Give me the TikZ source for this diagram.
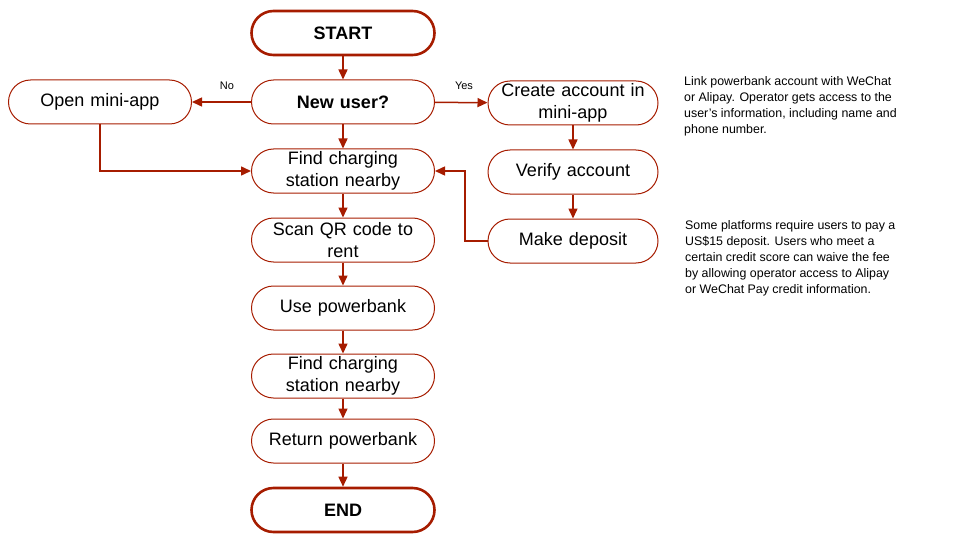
\documentclass[tikz,border=0pt]{standalone}
\usepackage{fontspec}
\setmainfont{Liberation Sans}
\usetikzlibrary{arrows.meta,positioning}
\definecolor{berry}{HTML}{A61C00}
\tikzset{
  pill/.style={draw=berry, line width=1pt, rounded corners=22pt, minimum width=183pt, minimum height=44pt,
    inner sep=1pt, align=center, font=\fontsize{18}{21.5}\selectfont, text width=180pt},
  term/.style={pill, line width=2.6pt, font=\fontsize{18}{21.5}\selectfont\bfseries},
  rpill/.style={pill, minimum width=170pt, text width=166pt},
  flow/.style={draw=berry, line width=1.5pt, -{Triangle[length=10pt,width=9pt]}},
  note/.style={align=left, anchor=north west, font=\fontsize{12.4}{16}\selectfont, inner sep=0pt},
  lbl/.style={font=\fontsize{11}{13}\selectfont, inner sep=0pt}
}
\begin{document}
\begin{tikzpicture}[x=1pt,y=-1pt]
\useasboundingbox (0,0) rectangle (960,540);
\node[term] (start) at (343,33) {START};
\node[pill] (new) at (343,102) {\textbf{New user?}};
\node[pill] (open) at (100,102) {Open mini-app};
\node[pill] (find1) at (343,171) {Find charging\\station nearby};
\node[pill] (scan) at (343,240) {Scan QR code to\\rent};
\node[pill] (use) at (343,308) {Use powerbank};
\node[pill] (find2) at (343,376) {Find charging\\station nearby};
\node[pill] (ret) at (343,441) {Return powerbank};
\node[term] (end) at (343,510) {END};
\node[rpill] (create) at (573,103) {Create account in\\mini-app};
\node[rpill] (verify) at (573,172) {Verify account};
\node[rpill] (dep) at (573,241) {Make deposit};
\coordinate (bend) at (465,241);
\node[lbl] (no) at (227,86) {No};
\node[lbl] (yes) at (464,86) {Yes};
\node[note] (note1) at (684,76) {Link powerbank account with WeChat\\or Alipay. Operator gets access to the\\user's information, including name and\\phone number.};
\node[note] (note2) at (685,220) {Some platforms require users to pay a\\US\$15 deposit. Users who meet a\\certain credit score can waive the fee\\by allowing operator access to Alipay\\or WeChat Pay credit information.};
\draw[flow] (start) -- (new);
\draw[flow] (new) -- (open);
\draw[flow] (new) -- (create);
\draw[flow] (new) -- (find1);
\draw[flow] (open.south) |- (find1.west);
\draw[flow] (create) -- (verify);
\draw[flow] (verify) -- (dep);
\draw[flow] (dep.west) -- (bend) |- (find1.east);
\draw[flow] (find1) -- (scan);
\draw[flow] (scan) -- (use);
\draw[flow] (use) -- (find2);
\draw[flow] (find2) -- (ret);
\draw[flow] (ret) -- (end);
\end{tikzpicture}
\end{document}
